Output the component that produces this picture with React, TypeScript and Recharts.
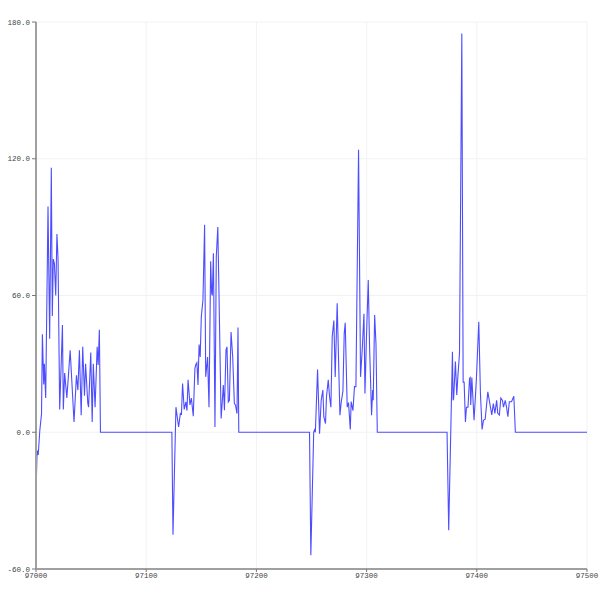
import { LineChart, Line, XAxis, YAxis, CartesianGrid } from "recharts";

// time offsets from T0 and the matching readings, one pair of arrays per burst
const T0 = 97000;

const burst1T = [0, 1, 2, 3.5, 5, 5.8, 7, 7.6, 8.8, 10.9, 12.4, 13.9, 14.8, 15.7, 16.7, 17.9, 19, 20, 21.5, 24, 24.8, 26, 28, 31, 34.5, 36.7, 38, 39.4, 41, 42.4, 44, 45, 47, 47.7, 49.7, 51, 52, 53.6, 55.5, 56.4, 57.5, 58.5];
const burst1V = [-27, -8, -10, 1, 8, 43, 21, 30, 15, 99, 41, 116, 51, 76, 74, 60, 87, 76, 10, 47, 10, 26, 15, 36, 4.5, 25, 18.5, 36, 7.5, 37.5, 16, 30, 12.7, 11, 35, 4.5, 30, 11, 37.5, 29.5, 45, 0];

const burst2T = [123.3, 124.3, 127, 129.4, 131, 132, 133, 134.5, 136, 137, 138, 139.7, 141, 142.7, 144.2, 145, 146, 147, 148, 149, 150, 151.5, 153, 154, 155.7, 157, 158.5, 159.4, 160, 161, 162.4, 163.6, 165, 168, 170, 171, 172.4, 173.3, 174.5, 175.5, 177, 178.5, 180, 181, 182.4, 183.3, 184];
const burst2V = [0, -45, 11, 2.3, 8.3, 8, 21.4, 10, 13.3, 9.5, 23, 12, 15, 7, 28, 29.6, 30.5, 20.7, 38.5, 33, 50.7, 58, 91, 24.3, 33, 11, 75, 61, 60, 78.5, 2.3, 77, 90, 6, 20.7, 9.7, 36, 37.5, 13.3, 14, 44, 33, 12.6, 12, 8.2, 46, 0];

const burst3T = [248.2, 249.4, 252, 252.7, 253.5, 255.5, 257.3, 258.8, 260.3, 261.2, 262.7, 263.6, 265.2, 266.4, 267.6, 268.8, 270.3, 271.5, 273.3, 275.8, 277, 278.5, 279.7, 280.6, 282.4, 283.6, 285.2, 286, 287.6, 289, 290.3, 292.7, 294.5, 296, 297.6, 298.5, 299.7, 301.5, 302.7, 304.5, 305.5, 306, 307.3, 308.5, 309.7];
const burst3V = [0, -54, 0, 1, 0, 27.5, -0.6, 14, 18.5, 6.7, 3.8, 15.6, 23, 15.6, 11, 42, 49, 24.3, 56.6, 7.5, 13.3, 18, 43.4, 48, 11, 13, 1.2, 13.5, 9.5, 20, 20, 124, 24.3, 36, 52, 17, 39, 66.8, 37.5, 7.5, 18.5, 14, 51.4, 39, 0];

const burst4T = [373, 374.5, 377.9, 378.5, 379, 380.6, 381.8, 383, 384.3, 386.4, 387.6, 388.5, 389.7, 390.6, 392, 393.4, 394, 394.5, 395.5, 397.5, 399.6, 401.8, 403.3, 404.8, 406, 407.6, 410, 411.8, 413.6, 415, 416.4, 418, 419, 420.5, 421.8, 423.3, 424.2, 425.8, 427, 428.2, 429.5, 431.5, 433.6, 435, 500];
const burst4V = [0, -43, 35.3, 14, 15, 31, 16.3, 25.8, 34.6, 175, 22, 22, 4.5, 11, 11, 23.6, 24, 12, 24, 5.3, 23, 48.5, 17, 1.2, 5.2, 5.7, 17.7, 12.6, 7.6, 12.6, 8.3, 14, 8.3, 7.6, 15, 14, 11, 14, 11, 6.8, 13.4, 13.4, 15.8, 0, 0];

const xTicks = [97000, 97100, 97200, 97300, 97400, 97500];
const yTicks = [-60, 0, 60, 120, 180];

const times = [...burst1T, ...burst2T, ...burst3T, ...burst4T];
const values = [...burst1V, ...burst2V, ...burst3V, ...burst4V];
const data = times.map((t, i) => ({ t: T0 + t, v: values[i] }));

const tickFont = { fill: "#444", fontSize: 7.5, fontFamily: "'Liberation Mono', monospace" };

export default function App() {
  return (
    <div style={{ position: "absolute", left: 0, top: 0, background: "#fff" }}>
      <LineChart width={599} height={600} data={data} margin={{ top: 22, right: 12, bottom: 0, left: 0 }}>
        <CartesianGrid stroke="#f2f2f2" strokeWidth={1} />
        <XAxis
          dataKey="t"
          type="number"
          domain={[97000, 97500]}
          ticks={xTicks}
          height={31}
          tick={tickFont}
          tickSize={3}
          tickMargin={1}
          axisLine={{ stroke: "#a0a0a0", strokeWidth: 2 }}
          tickLine={{ stroke: "#777" }}
          interval={0}
        />
        <YAxis
          type="number"
          domain={[-60, 180]}
          ticks={yTicks}
          width={36}
          tick={tickFont}
          tickSize={4}
          tickMargin={2}
          tickFormatter={(v: number) => v.toFixed(1)}
          axisLine={{ stroke: "#a0a0a0", strokeWidth: 2 }}
          tickLine={{ stroke: "#777" }}
          interval={0}
        />
        <Line
          dataKey="v"
          type="linear"
          stroke="#4d4dff"
          strokeWidth={1.1}
          dot={false}
          isAnimationActive={false}
        />
      </LineChart>
    </div>
  );
}
